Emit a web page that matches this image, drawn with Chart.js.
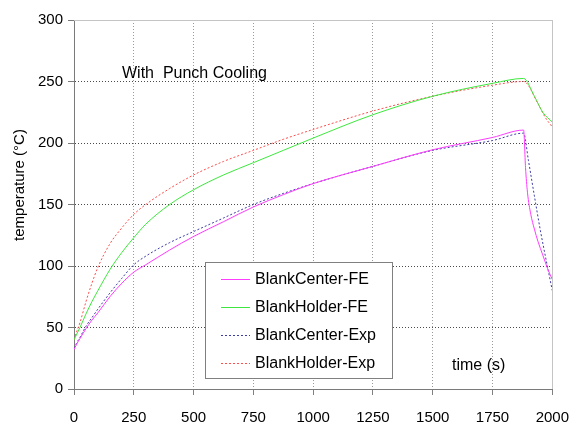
<!DOCTYPE html>
<html>
<head>
<meta charset="utf-8">
<script src="https://cdn.jsdelivr.net/npm/chart.js@4.4.1/dist/chart.umd.min.js"></script>
<style>
  html, body { margin: 0; padding: 0; background: #fff; }
  #wrap { width: 583px; height: 425px; }
</style>
</head>
<body>
<div id="wrap"><canvas id="tempChart" width="583" height="425"></canvas></div>
<script>
// time (s) during heating, shared by all four curves
const heatTimes = [0, 10, 25, 50, 75, 100, 150, 200, 250, 300, 400, 500, 625, 750, 875, 1000, 1250, 1500, 1750, 1880];

// temperature (°C) while heating
const centerFEHeat = [32, 36, 41, 49, 56, 62, 75, 86, 95, 101, 113, 124, 136, 148, 158, 167, 181, 194.5, 204.5, 210.5];
const holderFEHeat = [40, 44, 50, 61, 71, 80, 97, 111, 123, 134, 150, 162, 174, 184, 194, 204, 223, 238, 248.5, 252.5];
const centerExpHeat = [33, 37, 42, 51, 58, 65, 78, 90, 101, 108, 119, 128, 139, 150, 159, 167, 181, 194, 202, 208];
const holderExpHeat = [40, 46, 54, 71, 86, 99, 118, 131, 142, 150, 163, 174, 185, 194, 203, 211, 226, 238, 247, 250];

// cooling part after the punch opens
const centerFECoolTimes = [1888, 1896, 1910, 1925, 1940, 1960, 1980, 2000];
const centerFECool = [180, 160, 142, 130, 120, 109, 98, 89];
const holderFECoolTimes = [1925, 1960, 2000];
const holderFECool = [238, 225, 217];
const centerExpCoolTimes = [1900, 1925, 1950, 1975, 2000];
const centerExpCool = [186, 157, 129, 104, 80];
const holderExpCoolTimes = [1940, 1970, 2000];
const holderExpCool = [232, 221, 213];

const seriesNames = ["BlankCenter-FE", "BlankHolder-FE", "BlankCenter-Exp", "BlankHolder-Exp"];
const seriesColors = ["#ff3cff", "#3ee83e", "#3c3ca8", "#ff4c4c"];
const seriesDashes = [[], [], [2, 2], [2, 2]];

const FONT = "'Liberation Sans', Arial, sans-serif";

const toPoints = (times, temps) => times.map((t, i) => ({ x: t, y: temps[i] }));

const makeSet = (i, heat, coolTimes, cool) => ({
  label: seriesNames[i],
  data: toPoints(heatTimes.concat(coolTimes), heat.concat(cool)),
  borderColor: seriesColors[i],
  borderWidth: 1,
  borderDash: seriesDashes[i],
  pointRadius: 0,
  cubicInterpolationMode: "monotone",
  fill: false,
});

// frame, free text and the boxed legend
const decorations = {
  id: "decorations",
  afterDatasetsDraw(chart) {
    const ctx = chart.ctx;
    const area = chart.chartArea;

    ctx.save();
    ctx.setLineDash([]);
    ctx.lineWidth = 1;
    ctx.strokeStyle = "#c4c4c4";
    ctx.beginPath();
    ctx.moveTo(area.left, Math.round(area.top) + 0.5);
    ctx.lineTo(area.right, Math.round(area.top) + 0.5);
    ctx.moveTo(Math.round(area.right) + 0.5, area.top);
    ctx.lineTo(Math.round(area.right) + 0.5, area.bottom);
    ctx.stroke();
    ctx.restore();

    // legend box
    const box = { x: 205.5, y: 262.5, w: 187, h: 116 };
    ctx.save();
    ctx.fillStyle = "#fff";
    ctx.fillRect(box.x, box.y, box.w, box.h);
    ctx.lineWidth = 1;
    ctx.strokeStyle = "#808080";
    ctx.strokeRect(box.x, box.y, box.w, box.h);
    ctx.restore();

    seriesNames.forEach((name, i) => {
      const y = 279.5 + i * 28;
      ctx.save();
      ctx.beginPath();
      ctx.moveTo(221, y);
      ctx.lineTo(250, y);
      ctx.lineWidth = 1;
      ctx.setLineDash(seriesDashes[i]);
      ctx.strokeStyle = seriesColors[i];
      ctx.stroke();
      ctx.restore();

      ctx.save();
      ctx.font = "16px " + FONT;
      ctx.textBaseline = "middle";
      ctx.textAlign = "left";
      ctx.fillStyle = "#000";
      ctx.fillText(name, 255, y);
      ctx.restore();
    });

    ctx.save();
    ctx.font = "16px " + FONT;
    ctx.fillStyle = "#000";
    ctx.textAlign = "left";
    ctx.textBaseline = "alphabetic";
    ctx.fillText("With  Punch Cooling", 122, 78);
    ctx.fillText("time (s)", 452, 370);

    ctx.font = "15px " + FONT;
    ctx.textAlign = "center";
    ctx.textBaseline = "middle";
    ctx.translate(20, 185);
    ctx.rotate(-Math.PI / 2);
    ctx.fillText("temperature (°C)", 0, 0);
    ctx.restore();
  },
};

new Chart(document.getElementById("tempChart"), {
  type: "line",
  data: {
    datasets: [
      makeSet(0, centerFEHeat, centerFECoolTimes, centerFECool),
      makeSet(1, holderFEHeat, holderFECoolTimes, holderFECool),
      makeSet(2, centerExpHeat, centerExpCoolTimes, centerExpCool),
      makeSet(3, holderExpHeat, holderExpCoolTimes, holderExpCool),
    ],
  },
  options: {
    responsive: false,
    animation: false,
    devicePixelRatio: 1,
    layout: { padding: { left: 0, right: 18, top: 20, bottom: 0 } },
    plugins: {
      legend: { display: false },
      tooltip: { enabled: false },
    },
    scales: {
      x: {
        type: "linear",
        min: 0,
        max: 2000,
        afterFit: (scale) => { scale.height = 36; },
        ticks: {
          stepSize: 250,
          padding: 14,
          color: "#000",
          font: { family: FONT, size: 15 },
          maxRotation: 0,
          callback: (value) => String(value),
        },
        grid: {
          color: (c) => (c.tick && (c.tick.value === 0 || c.tick.value === 2000) ? "rgba(0,0,0,0)" : "#9a9a9a"),
          tickColor: "#808080",
          tickLength: 6,
          tickBorderDash: [],
        },
        border: { display: true, color: "#7a7a7a", width: 1, dash: [1, 2] },
      },
      y: {
        min: 0,
        max: 300,
        afterFit: (scale) => { scale.width = 74; },
        ticks: {
          stepSize: 50,
          padding: 5,
          color: "#000",
          font: { family: FONT, size: 15 },
          callback: (value) => String(value),
        },
        grid: {
          color: (c) => (c.tick && (c.tick.value === 0 || c.tick.value === 300) ? "rgba(0,0,0,0)" : "#4a4a4a"),
          tickColor: "#7a7a7a",
          tickLength: 6,
          tickBorderDash: [],
        },
        border: { display: true, color: "#7a7a7a", width: 1, dash: [1, 2] },
      },
    },
  },
  plugins: [decorations],
});
</script>
</body>
</html>
